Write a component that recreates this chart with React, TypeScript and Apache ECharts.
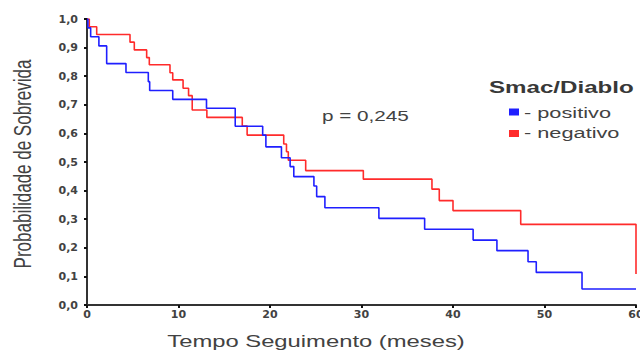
import React, { useEffect, useRef } from "react";
import * as echarts from "echarts";

// Kaplan-Meier estimates
const positivoTime = [0, 0.1, 0.4, 1.3, 2.15, 4.26, 6.7, 6.85, 9.37, 13.06, 16.2, 19.2, 19.55, 21.25, 22.2, 22.6, 24.8, 25.1, 26.0, 31.9, 36.9, 42.2, 44.8, 48.2, 49.1, 54.1, 60];
const positivoSurv = [1.0, 0.969, 0.938, 0.906, 0.844, 0.813, 0.781, 0.75, 0.719, 0.688, 0.625, 0.594, 0.553, 0.515, 0.484, 0.449, 0.416, 0.379, 0.34, 0.303, 0.265, 0.227, 0.19, 0.151, 0.114, 0.056, 0.056];

const negativoTime = [0, 0.25, 1.06, 4.7, 5.17, 6.52, 6.81, 9.07, 9.37, 10.5, 11.1, 11.5, 13.1, 16.97, 17.5, 21.5, 21.8, 22.0, 23.9, 30.2, 37.7, 38.5, 40.0, 47.4, 60];
const negativoSurv = [1.0, 0.973, 0.946, 0.919, 0.892, 0.865, 0.84, 0.812, 0.787, 0.758, 0.732, 0.682, 0.656, 0.626, 0.594, 0.563, 0.536, 0.506, 0.47, 0.44, 0.405, 0.365, 0.33, 0.282, 0.108];

const seriesNames = ["- positivo", "- negativo"];
const seriesColors = ["#1f1fff", "#ff2b2b"];
const legendTitle = "Smac/Diablo";
const pValueText = "p = 0,245";
const xAxisTitle = "Tempo Seguimento (meses)";
const yAxisTitle = "Probabilidade de Sobrevida";

const TEXT = "#424242";
const FONT = "'Liberation Sans', Arial, sans-serif";

export default function App() {
  const ref = useRef<HTMLDivElement>(null);

  useEffect(() => {
    if (!ref.current) return;
    const chart = echarts.init(ref.current, undefined, { renderer: "svg" });
    const pos = positivoTime.map((t, i) => [t, positivoSurv[i]]);
    const neg = negativoTime.map((t, i) => [t, negativoSurv[i]]);

    chart.setOption({
      animation: false,
      backgroundColor: "#ffffff",
      grid: { left: 87, right: 4, top: 19, bottom: 47, containLabel: false, outerBoundsMode: "none" },
      xAxis: {
        type: "value",
        min: 0,
        max: 60,
        interval: 10,
        axisLine: { show: true, onZero: false, lineStyle: { color: "#333", width: 2 } },
        axisTick: { show: true, length: 3, lineStyle: { color: "#111", width: 2 } },
        axisLabel: {
          margin: 4,
          color: TEXT,
          fontFamily: "'DejaVu Sans', sans-serif",
          fontWeight: "bold",
          fontSize: 11,
          showMaxLabel: true,
          showMinLabel: true,
        },
        splitLine: { show: false },
      },
      yAxis: {
        type: "value",
        min: 0,
        max: 1,
        interval: 0.1,
        axisLine: { show: true, lineStyle: { color: "#333", width: 2 } },
        axisTick: { show: true, length: 3, lineStyle: { color: "#111", width: 2 } },
        axisLabel: {
          margin: 9,
          color: TEXT,
          fontFamily: "'DejaVu Sans', sans-serif",
          fontWeight: "bold",
          fontSize: 11,
          formatter: (v: number) => v.toFixed(1).replace(".", ","),
        },
        splitLine: { show: false },
      },
      series: [
        {
          name: seriesNames[0],
          type: "line",
          step: "end",
          data: pos,
          showSymbol: false,
          lineStyle: { color: seriesColors[0], width: 1.6 },
          itemStyle: { color: seriesColors[0] },
          z: 3,
        },
        {
          name: seriesNames[1],
          type: "line",
          step: "end",
          data: neg,
          showSymbol: false,
          lineStyle: { color: seriesColors[1], width: 1.6 },
          itemStyle: { color: seriesColors[1] },
          z: 2,
        },
      ],
      graphic: [
        {
          type: "text",
          x: 22,
          y: 164,
          rotation: Math.PI / 2,
          scaleY: 1.4,
          style: { text: yAxisTitle, font: `17px ${FONT}`, fill: TEXT, align: "center", verticalAlign: "middle" },
        },
        {
          type: "text",
          x: 316,
          y: 341,
          scaleX: 1.4,
          style: { text: xAxisTitle, font: `17px ${FONT}`, fill: TEXT, align: "center", verticalAlign: "middle" },
        },
        {
          type: "text",
          x: 322,
          y: 116,
          scaleX: 1.38,
          style: { text: pValueText, font: `15px ${FONT}`, fill: TEXT, align: "left", verticalAlign: "middle" },
        },
        {
          type: "text",
          x: 489,
          y: 87,
          scaleX: 1.42,
          style: { text: legendTitle, font: `bold 17px ${FONT}`, fill: "#383838", align: "left", verticalAlign: "middle" },
        },
        {
          type: "rect",
          shape: { x: 509, y: 108.5, width: 10, height: 7 },
          style: { fill: seriesColors[0] },
        },
        {
          type: "text",
          x: 524,
          y: 113,
          scaleX: 1.45,
          style: { text: seriesNames[0], font: `15px ${FONT}`, fill: TEXT, align: "left", verticalAlign: "middle" },
        },
        {
          type: "rect",
          shape: { x: 509, y: 130, width: 10, height: 7 },
          style: { fill: seriesColors[1] },
        },
        {
          type: "text",
          x: 524,
          y: 133,
          scaleX: 1.45,
          style: { text: seriesNames[1], font: `15px ${FONT}`, fill: TEXT, align: "left", verticalAlign: "middle" },
        },
      ],
    });

    return () => chart.dispose();
  }, []);

  return (
    <div
      ref={ref}
      style={{ position: "fixed", left: 0, top: 0, width: 640, height: 352, background: "#fff" }}
    />
  );
}
